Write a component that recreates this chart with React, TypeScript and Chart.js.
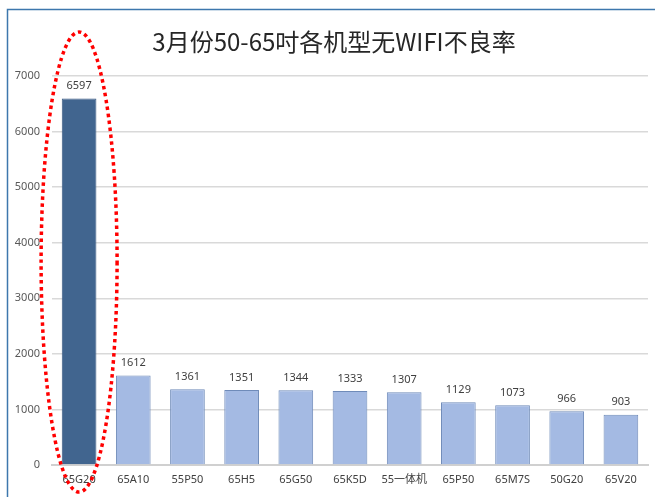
import React, { useEffect, useRef } from "react";
import { Chart, registerables } from "chart.js";

Chart.register(...registerables);

const TITLE = "3月份50-65吋各机型无WIFI不良率";
const categories = ["65G20", "65A10", "55P50", "65H5", "65G50", "65K5D", "55一体机", "65P50", "65M7S", "50G20", "65V20"];
const values = [6597, 1612, 1361, 1351, 1344, 1333, 1307, 1129, 1073, 966, 903];
const yTicks = [0, 1000, 2000, 3000, 4000, 5000, 6000, 7000];
const highlightIndex = 0;

const FONT = "'Noto Sans', 'Noto Sans CJK SC', sans-serif";

const decorPlugin = {
  id: "decor",
  beforeDraw(chart: any) {
    const { ctx } = chart;
    ctx.save();
    ctx.fillStyle = "#ffffff";
    ctx.fillRect(0, 0, chart.width, chart.height);
    ctx.strokeStyle = "#3d77ad";
    ctx.lineWidth = 1.5;
    ctx.beginPath();
    ctx.moveTo(7.5, chart.height);
    ctx.lineTo(7.5, 9.5);
    ctx.lineTo(chart.width, 9.5);
    ctx.stroke();
    ctx.fillStyle = "#262626";
    ctx.font = "24px 'Noto Sans CJK SC', sans-serif";
    ctx.textAlign = "center";
    ctx.textBaseline = "middle";
    ctx.fillText(TITLE, 334, 42);
    ctx.restore();
  },
  afterDraw(chart: any) {
    const { ctx } = chart;
    const meta = chart.getDatasetMeta(0);
    ctx.save();
    ctx.fillStyle = "#404040";
    ctx.font = `11px ${FONT}`;
    ctx.textAlign = "center";
    ctx.textBaseline = "bottom";
    meta.data.forEach((bar: any, i: number) => {
      ctx.fillText(String(values[i]), bar.x, bar.y - 7);
    });
    const x = chart.scales.x.getPixelForValue(highlightIndex);
    const top = 32;
    const bottom = 492;
    ctx.strokeStyle = "#ff0000";
    ctx.lineWidth = 3.5;
    ctx.setLineDash([3.5, 3.5]);
    ctx.beginPath();
    ctx.ellipse(x, (top + bottom) / 2, 38, (bottom - top) / 2, 0, 0, Math.PI * 2);
    ctx.stroke();
    ctx.restore();
  },
};

export default function App() {
  const ref = useRef<HTMLCanvasElement>(null);
  useEffect(() => {
    const chart = new Chart(ref.current!, {
      type: "bar",
      data: {
        labels: categories,
        datasets: [
          {
            data: values,
            backgroundColor: values.map((_, i) => (i === highlightIndex ? "#41658f" : "#a4bae3")),
            borderColor: values.map((_, i) => (i === highlightIndex ? "#3a5a82" : "#6f8bb9")),
            borderWidth: 1,
            barPercentage: 0.64,
            categoryPercentage: 1,
          },
        ],
      },
      options: {
        responsive: false,
        animation: false,
        layout: { padding: { top: 76, right: 7, left: 0, bottom: 0 } },
        plugins: { legend: { display: false }, tooltip: { enabled: false } },
        scales: {
          x: {
            grid: { display: false, drawTicks: false },
            border: { display: true, color: "#d0d0d0", width: 2 },
            ticks: { color: "#404040", font: { size: 11, family: FONT }, padding: 8, maxRotation: 0, autoSkip: false },
            afterFit: (s: any) => {
              s.height = 32;
            },
          },
          y: {
            min: 0,
            max: 7000,
            afterBuildTicks: (s: any) => {
              s.ticks = yTicks.map((v) => ({ value: v }));
            },
            grid: { color: "#d9d9d9", lineWidth: 1.5, drawTicks: false },
            border: { display: false },
            ticks: {
              color: "#595959",
              font: { size: 11, family: FONT },
              padding: 12,
              callback: (v: any) => String(v),
            },
            afterFit: (s: any) => {
              s.width = 52;
            },
          },
        },
      },
      plugins: [decorPlugin],
    });
    return () => chart.destroy();
  }, []);
  return (
    <div style={{ position: "fixed", left: 0, top: 0, width: 655, height: 497, background: "#fff" }}>
      <canvas ref={ref} width={655} height={497} style={{ display: "block" }} />
    </div>
  );
}
